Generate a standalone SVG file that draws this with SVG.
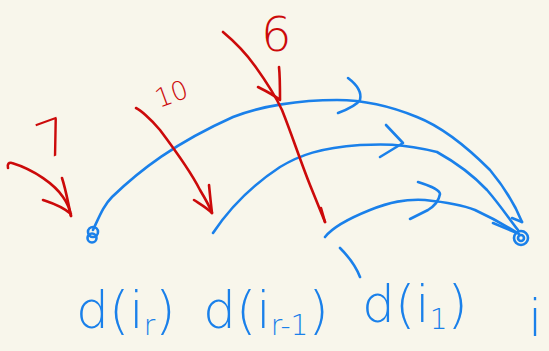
<svg xmlns="http://www.w3.org/2000/svg" width="549" height="351" viewBox="0 0 549 351">
<style>
.b{fill:none;stroke:#1a80ea;stroke-width:2.6;stroke-linecap:round;stroke-linejoin:round}
.r{fill:none;stroke:#cc0a0a;stroke-width:2.6;stroke-linecap:round;stroke-linejoin:round}
.rt{fill:#cc0a0a;font-family:"DejaVu Sans",sans-serif;font-weight:300}
.bt{fill:#1a80ea;font-family:"DejaVu Sans",sans-serif;font-weight:300;font-size:52px}
.sub{font-size:28px}
</style>
<rect width="549" height="351" fill="#f8f6eb"/>
<g id="connectors">
  <path class="b" d="M93,230 C100,215 104,205 112,197 C140,170 175,143 233,117 C260,106 300,100 337,100 C370,100 400,110 417,117 C445,128 470,150 490,170 C505,188 515,205 522,222"/>
  <path class="b" d="M348,78 C356,84 362,92 360,100 C356,106 346,110 338,113"/>
  <path class="b" d="M512,218 L522,222"/>
  <path class="b" d="M213,233 C225,215 245,190 280,167 C300,155 320,148 360,145 C380,144 400,143 437,152 C455,162 470,172 487,190 C500,205 510,220 518,230"/>
  <path class="b" d="M386,125 L403,143 L380,157"/>
  <path class="b" d="M325,237 C332,228 350,218 370,210 C390,202 405,199 425,200 C445,202 460,204 475,210 C490,217 505,225 519,234"/>
  <path class="b" d="M418,182 C428,185 440,190 440,194 C439,200 436,205 428,210 C420,214 414,217 410,219"/>
  <path class="b" d="M493,223 L517,233"/>
  <path class="b" d="M340,248 C348,256 355,264 360,277"/>
  <path class="r" d="M8,168 C7,164 9,162 12,163 C35,170 55,185 63,197 C68,204 70,210 71,216"/>
  <path class="r" d="M62,178 C66,190 68,203 71,216 M43,200 C52,203 62,206 71,214"/>
  <path class="r" d="M136,108 C140,110 150,118 160,130 C175,150 190,170 200,190 C206,200 210,207 212,213"/>
  <path class="r" d="M194,200 C200,204 207,208 212,213 M209,185 C210,195 211,205 212,213"/>
  <path class="r" d="M223,32 C235,42 245,52 255,66 C265,80 275,95 282,110 C292,135 300,160 310,185 C316,200 321,212 325,222"/>
  <path class="r" d="M258,87 C266,91 274,95 280,100 M279,67 C280,76 280,88 280,100"/>
  <path class="r" d="M321,208 L325,222"/>
</g>
<g id="node-ir">
  <circle class="b" cx="93" cy="232" r="5"/>
  <circle class="b" cx="92" cy="238" r="4.5"/>
  <text class="bt" x="76" y="328">d(i<tspan class="sub" dy="7">r</tspan><tspan dy="-7">)</tspan></text>
</g>
<g id="node-ir1">
  <text class="bt" x="203" y="328">d(i<tspan class="sub" dy="7">r-1</tspan><tspan dy="-7">)</tspan></text>
</g>
<g id="node-i1">
  <text class="bt" x="362" y="322">d(i<tspan class="sub" dy="7">1</tspan><tspan dy="-7">)</tspan></text>
</g>
<g id="node-i">
  <circle class="b" cx="521" cy="238" r="7"/>
  <circle class="b" cx="521" cy="238" r="3"/>
  <text class="bt" x="528" y="336">i</text>
</g>
<g id="weights">
  <text class="rt" font-size="50" transform="translate(44,160) rotate(-20)">7</text>
  <text class="rt" font-size="26" transform="translate(159,108) rotate(-20)">10</text>
  <text class="rt" font-size="48" x="261" y="51">6</text>
</g>
</svg>
